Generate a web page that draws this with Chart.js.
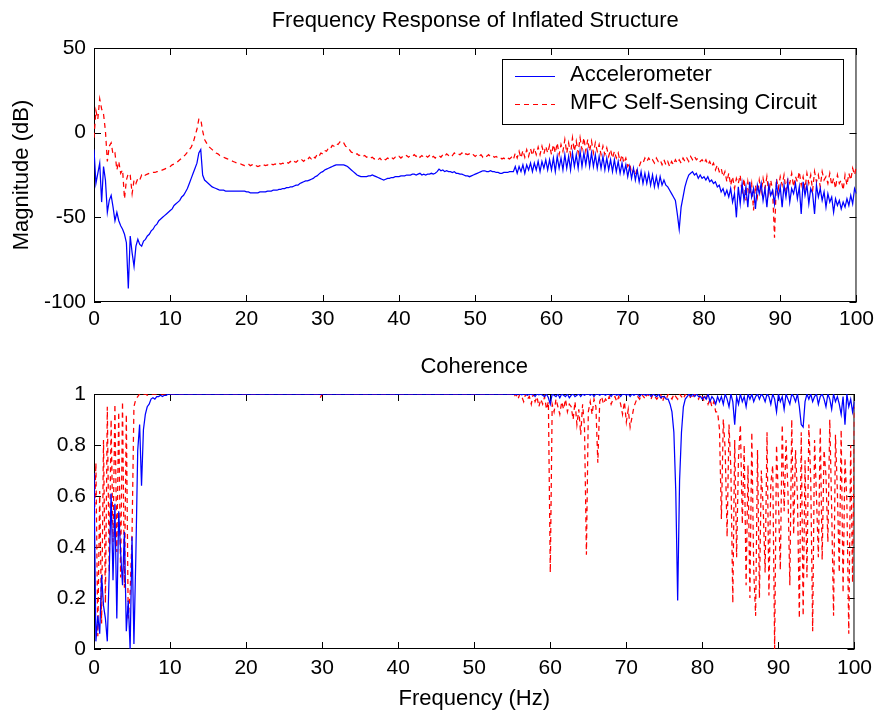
<!DOCTYPE html>
<html>
<head>
<meta charset="utf-8">
<title>Frequency Response of Inflated Structure</title>
<script src="https://cdn.jsdelivr.net/npm/chart.js@4.4.1/dist/chart.umd.min.js"></script>
<style>
  html, body { margin: 0; padding: 0; background: #fff; }
  #wrap { position: relative; width: 879px; height: 713px; overflow: hidden; }
  #wrap canvas { position: absolute; left: 0; }
  #magChart { top: 0; }
  #cohChart { top: 345px; }
</style>
</head>
<body>
<div id="wrap">
  <canvas id="magChart" width="879" height="345"></canvas>
  <canvas id="cohChart" width="879" height="368"></canvas>
</div>
<script>
// -------------------------------------------------------
// 1. DATA (0.25 Hz grid, 0..100 Hz)
// -------------------------------------------------------
const FREQ_STEP = 0.25;
const freqHz = [];
for (let i = 0; i <= 400; i++) freqHz.push(i * FREQ_STEP);

const seriesLabels = ['Accelerometer', 'MFC Self-Sensing Circuit'];

// Magnitude (dB), accelerometer
const accDb = [
  -10, -30, -24, -18, -41, -20, -28, -47, -40, -37, -44, -52, -47, -52, -55, -57, -60, -65, -92, -61,   // 0-5
  -71, -79, -67, -63, -66, -67, -64, -63, -61, -60, -58, -57, -55, -54, -52, -51, -50, -49, -48, -47,   // 5-10
  -46, -45, -43, -42, -41, -40, -38, -37, -35, -33, -30, -27, -24, -21, -18, -12, -10, -25, -28, -29,   // 10-15
  -30, -31, -32, -32.5, -33, -33.5, -34, -34, -34, -34.5, -34.5, -34.5, -34.5, -34.5, -34.5, -34.5, -34.5, -34.5, -34.5, -34.5,
  -35, -35, -35.5, -35.5, -35.5, -35.5, -35.5, -35, -35, -35, -35, -34.5, -34.5, -34.5, -34, -34, -34, -33.5, -33.5, -33,
  -33, -32.5, -32.5, -32, -32, -31.5, -31, -31, -30, -29.5, -29, -28.5, -28.5, -28, -27.5, -27, -26, -25.5, -24.5, -23.5,
  -23, -22, -21.5, -21, -20.5, -20, -19.5, -19, -19, -19, -19, -19, -19.5, -20, -21, -22, -23, -24, -25, -25.5,
  -26, -26, -26, -26, -25.5, -25.5, -25, -25.5, -26, -26.5, -27, -27.5, -28, -27.5, -27, -27, -26.5, -26.5, -26, -26,
  -26, -25.5, -25.5, -25.5, -25, -25, -25, -24.5, -24.5, -25, -24.5, -24, -25, -24.5, -25, -24.5, -24.5, -24, -24.5, -24,
  -23, -21.5, -22.5, -22, -23, -22.5, -23, -23, -23.5, -23, -24, -24, -24.5, -24.5, -25, -25.5, -25.5, -26, -25.5, -25,
  -24.5, -24, -23.5, -23, -22.5, -22.5, -23, -23, -22.5, -23, -23, -23.5, -23.5, -24, -24, -23.5, -23.5, -23.5, -23, -23,
  -23, -20, -24, -20, -23, -19, -24, -19, -22, -18, -23, -18, -22, -17, -23, -17, -21, -16, -22, -16,   // 55-60
  -22, -15, -23, -14, -21, -15, -22, -13, -21, -14, -22, -12, -20, -13, -21, -11, -20, -12, -19, -11,
  -20, -12, -20, -13, -21, -14, -21, -14, -22, -15, -22, -16, -23, -16, -23, -17, -24, -18, -24, -19,
  -26, -20, -27, -21, -28, -22, -29, -23, -30, -24, -30, -24, -31, -25, -32, -26, -32, -26, -31, -28,
  -31, -32, -34, -36, -38, -40, -48, -57, -44, -38, -32, -28, -25, -24, -23, -25, -24, -27, -25, -27,   // 75-80
  -26, -28, -26, -29, -28, -30, -29, -32, -31, -35, -33, -37, -34, -38, -33, -41, -36, -50, -32, -42,
  -30, -40, -32, -44, -29, -38, -33, -45, -31, -36, -30, -40, -33, -44, -31, -37, -34, -42, -30, -38,
  -32, -44, -31, -38, -29, -41, -33, -36, -30, -39, -32, -48, -29, -37, -31, -42, -33, -36, -48, -31,
  -38, -33, -40, -35, -44, -36, -41, -38, -47, -39, -43, -40, -45, -41, -44, -39, -43, -37, -42, -33,
  -36
];

// Magnitude (dB), MFC self-sensing circuit
const mfcDb = [
  -3, 13, 8, 20, 14, 11, 1, -17, -8, -6, -13, -12, -22, -17, -24, -22, -39, -28, -24, -25,   // 0-5
  -36, -28, -30, -27, -28, -25, -26, -25, -24.5, -24, -24, -23.5, -23.5, -23, -23, -22.5, -22, -21.5, -21, -20.5,
  -20, -19, -18.5, -18, -17, -16, -15, -14, -13, -11.5, -10, -8.5, -6, -2, 2, 8, 8, 1, -4, -6,   // 10-15
  -8, -9, -10, -11, -12, -12.5, -13.5, -14, -14.5, -15, -15.5, -16, -16.5, -17, -17.5, -18, -18, -18.5, -19, -19.5,
  -19, -18.5, -19.5, -19, -20, -19.5, -20, -19.5, -20, -19, -19.5, -19, -19.5, -18.5, -19, -18.5, -19, -18, -18.5, -18,
  -18.5, -17.5, -18, -17, -18, -17, -17.5, -16.5, -17, -16, -17, -15.5, -16, -14.5, -15.5, -14, -15, -13, -14, -12,
  -12.5, -10.5, -11, -9, -9.5, -7.5, -8, -6.5, -7, -5.5, -6.5, -6, -8, -8.5, -10, -11.5, -12, -13, -12.5, -13.5,
  -13, -14, -13.5, -14.5, -14, -15, -14.5, -15.5, -15, -16, -15, -16.5, -15.5, -16, -15, -15.5, -14.5, -15.5, -14.5, -15,
  -14, -15, -14, -14.5, -13.5, -14.5, -13.5, -14, -13, -14, -13, -14.5, -13.5, -14.5, -13.5, -14.5, -13.5, -15, -14, -15,
  -14, -13.5, -14.5, -13, -14, -12.5, -13.5, -12.5, -13.5, -12, -13, -12.5, -13, -12, -13.5, -12.5, -13, -12.5, -13.5, -13,
  -14, -13, -14, -13, -14.5, -13.5, -14, -13, -14, -13.5, -14.5, -14, -15, -14.5, -15.5, -15, -16, -15, -15.5, -14.5,
  -16, -12, -15, -11, -15, -10.5, -14.5, -10, -14, -9.5, -13.5, -9, -13, -8.5, -13, -8, -12.5, -8, -12, -7.5,   // 55-60
  -13, -7, -12, -6, -13, -7, -11, -4, -12, -6, -13, -3, -11, -5, -12, -3, -10, -3, -11, -4,
  -11, -5, -12, -6, -11, -7, -13, -8, -13, -9, -14, -10, -15, -11, -15, -12, -17, -13, -18, -15,
  -20, -18, -24, -22, -25, -21, -20, -17, -18, -15, -17, -15, -17, -16, -18, -15, -17, -16, -19, -16,
  -19, -17, -20, -17, -19, -16, -18, -16, -18, -15, -17, -15, -17, -14, -16, -14, -16, -15, -17, -16,
  -18, -16, -19, -17, -20, -18, -22, -19, -23, -21, -26, -23, -29, -24, -31, -26, -33, -27, -30, -25,   // 80-85
  -36, -27, -40, -29, -37, -30, -46, -31, -38, -28, -35, -27, -33, -26, -36, -28, -34, -62, -27, -33,
  -26, -31, -25, -34, -27, -30, -24, -32, -26, -29, -23, -31, -26, -33, -24, -30, -25, -34, -23, -29,
  -25, -32, -23, -28, -26, -30, -24, -31, -27, -33, -25, -30, -28, -34, -25, -31, -24, -28, -21, -25,
  -19
];

// Coherence, accelerometer
const accCoh = [
  0.69, 0.03, 0.13, 0.06, 0.29, 0.17, 0.12, 0.03, 0.30, 0.61, 0.27, 0.57, 0.12, 0.54, 0.38, 0.25, 0.46, 0.07, 0.19, 0.00,
  0.44, 0.02, 0.36, 0.78, 0.88, 0.64, 0.86, 0.92, 0.95, 0.96, 0.98, 0.985, 0.98, 0.99, 0.99, 0.995, 0.99, 0.995, 0.995, 1,
  1, 1, 1, 1, 1, 1, 1, 1, 1, 1, 1, 1, 1, 1, 1, 1, 1, 1, 1, 1,   // 10-15
  1, 1, 1, 1, 1, 1, 1, 1, 1, 1, 1, 1, 1, 1, 1, 1, 1, 1, 1, 1,
  1, 1, 1, 1, 1, 1, 1, 1, 1, 1, 1, 1, 1, 1, 1, 1, 1, 1, 1, 1,
  1, 1, 1, 1, 1, 1, 1, 1, 1, 1, 1, 1, 1, 1, 1, 1, 1, 1, 1, 1,
  1, 1, 1, 1, 1, 1, 1, 1, 1, 1, 1, 1, 1, 1, 1, 1, 1, 1, 1, 1,
  1, 1, 1, 1, 1, 1, 1, 1, 1, 1, 1, 1, 1, 1, 1, 1, 1, 1, 1, 1,
  1, 1, 1, 1, 1, 1, 1, 1, 1, 1, 1, 1, 1, 1, 1, 1, 1, 1, 1, 1,
  1, 1, 1, 1, 1, 1, 1, 1, 1, 1, 1, 1, 1, 1, 1, 1, 1, 1, 1, 1,
  1, 1, 1, 1, 1, 1, 1, 1, 1, 1, 1, 1, 1, 1, 1, 1, 1, 1, 1, 1,   // 50-55
  1, 1, 0.998, 1, 1, 0.997, 1, 1, 0.995, 1, 0.998, 1, 0.99, 1, 0.997, 1, 0.995, 0.99, 1, 0.985,
  0.96, 1, 0.995, 0.99, 1, 0.985, 1, 0.995, 0.99, 1, 0.985, 0.995, 1, 0.99, 0.995, 1, 0.99, 1, 0.995, 1,
  1, 0.995, 1, 0.99, 1, 1, 0.995, 1, 1, 0.995, 1, 1, 0.99, 1, 1, 0.995, 1, 0.99, 1, 1,
  0.995, 1, 0.99, 1, 0.995, 1, 1, 0.99, 1, 1, 0.995, 1, 1, 0.99, 1, 0.995, 0.99, 1, 0.985, 0.99,
  0.99, 0.98, 0.98, 0.96, 0.93, 0.85, 0.62, 0.19, 0.66, 0.85, 0.95, 0.98, 0.99, 1, 0.99, 1, 0.99, 1, 0.99, 0.99,   // 75-80
  0.98, 0.99, 0.98, 1, 0.97, 0.99, 0.98, 0.96, 0.99, 0.97, 0.99, 0.96, 1, 0.98, 0.95, 1, 0.97, 0.88, 0.99, 0.96,
  1, 0.97, 0.99, 0.95, 1, 0.98, 1, 0.97, 0.99, 1, 0.98, 1, 0.99, 0.97, 1, 0.99, 0.96, 1, 0.98, 0.93,
  1, 0.97, 0.99, 0.94, 1, 0.98, 0.96, 1, 0.99, 0.97, 1, 0.95, 0.88, 0.87, 0.97, 1, 0.98, 1, 0.97, 0.99,
  1, 0.96, 0.99, 1, 0.98, 0.95, 1, 0.98, 0.94, 1, 0.97, 0.99, 0.96, 0.92, 0.99, 0.88, 1, 0.95, 0.98, 0.93,
  0.97
];

// Coherence, MFC self-sensing circuit
const mfcCoh = [
  0.45, 0.73, 0.05, 0.62, 0.10, 0.82, 0.18, 0.95, 0.30, 0.90, 0.42, 0.96, 0.38, 0.93, 0.28, 0.97, 0.24, 0.92, 0.12, 0.22,
  0.45, 0.95, 0.98, 0.99, 1, 0.995, 1, 1, 0.995, 1, 1, 1, 1, 1, 1, 1, 1, 1, 1, 1,
  1, 1, 1, 1, 1, 1, 1, 1, 1, 1, 1, 1, 1, 1, 1, 1, 1, 1, 1, 1,   // 10-15
  1, 1, 1, 1, 1, 1, 1, 1, 1, 1, 1, 1, 1, 1, 1, 1, 1, 1, 1, 1,
  1, 1, 1, 1, 1, 1, 1, 1, 1, 1, 1, 1, 1, 1, 1, 1, 1, 1, 1, 1,
  1, 1, 1, 1, 1, 1, 1, 1, 1, 1, 1, 1, 1, 1, 1, 1, 1, 1, 1, 0.985,
  1, 1, 1, 1, 1, 1, 1, 1, 1, 1, 1, 1, 1, 1, 1, 1, 1, 1, 1, 1,
  1, 1, 1, 1, 1, 1, 1, 1, 1, 1, 1, 1, 1, 1, 1, 1, 1, 1, 1, 1,
  1, 1, 1, 1, 1, 1, 1, 1, 1, 1, 1, 1, 1, 1, 1, 1, 1, 1, 1, 1,
  1, 1, 1, 1, 1, 1, 1, 1, 1, 1, 1, 1, 1, 1, 1, 1, 1, 1, 1, 1,
  1, 1, 1, 1, 1, 1, 1, 1, 1, 1, 1, 1, 1, 1, 1, 1, 1, 1, 1, 1,   // 50-55
  1, 0.99, 1, 0.98, 1, 0.99, 0.97, 1, 0.98, 0.99, 0.96, 1, 0.97, 0.99, 0.95, 0.98, 0.96, 0.99, 0.94, 0.97,
  0.30, 0.96, 0.93, 0.98, 0.95, 0.92, 0.97, 0.94, 0.98, 0.93, 0.96, 0.95, 0.90, 0.97, 0.88, 0.94, 0.84, 0.96, 0.87, 0.37,
  0.93, 0.97, 0.92, 0.98, 0.95, 0.73, 0.97, 0.99, 0.96, 0.98, 0.97, 0.99, 0.96, 0.98, 0.99, 0.97, 0.99, 0.96, 0.92, 0.97,
  0.89, 0.94, 0.87, 0.91, 0.95, 0.97, 0.99, 0.98, 1, 0.99, 0.98, 1, 0.99, 0.98, 1, 0.99, 0.98, 0.99, 1, 0.97,
  0.99, 0.98, 1, 0.99, 0.98, 1, 0.99, 0.98, 1, 0.99, 0.98, 1, 0.99, 1, 0.98, 0.99, 1, 0.99, 0.98, 1,
  0.99, 0.97, 0.99, 0.96, 0.98, 0.95, 0.97, 0.93, 0.93, 0.86, 0.51, 0.90, 0.78, 0.44, 0.88, 0.70, 0.18, 0.82, 0.36, 0.75,   // 80-85
  0.88, 0.49, 0.80, 0.25, 0.72, 0.20, 0.85, 0.31, 0.13, 0.78, 0.20, 0.70, 0.55, 0.30, 0.85, 0.21, 0.65, 0.72, 0.00, 0.80,
  0.58, 0.31, 0.88, 0.54, 0.82, 0.62, 0.25, 0.90, 0.45, 0.78, 0.60, 0.12, 0.85, 0.13, 0.74, 0.28, 0.88, 0.66, 0.07, 0.82,
  0.60, 0.36, 0.87, 0.35, 0.78, 0.68, 0.42, 0.90, 0.55, 0.13, 0.84, 0.62, 0.30, 0.86, 0.22, 0.75, 0.58, 0.06, 0.80, 0.26,
  0.95
];

const magTicks = [-100, -50, 0, 50];
const cohTicks = [0, 0.2, 0.4, 0.6, 0.8, 1];
const freqTicks = [0, 10, 20, 30, 40, 50, 60, 70, 80, 90, 100];

// -------------------------------------------------------
// 2. LOOK AND FEEL
// -------------------------------------------------------
const FONT = '"Liberation Sans", Arial, Helvetica, sans-serif';
const TICK_LEN = 7;
const lineStyles = [
  { color: '#0000ff', dash: [] },
  { color: '#ff0000', dash: [5, 4] }
];

Chart.defaults.font.family = FONT;
Chart.defaults.color = '#000';

// MATLAB-like box with inward ticks on all four sides
const matlabBox = {
  id: 'matlabBox',
  beforeDatasetsDraw(chart) {
    const { ctx, chartArea: area, scales } = chart;
    ctx.save();
    ctx.strokeStyle = '#000';
    ctx.lineWidth = 1;
    ctx.beginPath();
    scales.x.ticks.forEach(t => {
      const px = Math.round(scales.x.getPixelForValue(t.value)) + 0.5;
      ctx.moveTo(px, area.bottom); ctx.lineTo(px, area.bottom - TICK_LEN);
      ctx.moveTo(px, area.top); ctx.lineTo(px, area.top + TICK_LEN);
    });
    scales.y.ticks.forEach(t => {
      const py = Math.round(scales.y.getPixelForValue(t.value)) + 0.5;
      ctx.moveTo(area.left, py); ctx.lineTo(area.left + TICK_LEN, py);
      ctx.moveTo(area.right, py); ctx.lineTo(area.right - TICK_LEN, py);
    });
    ctx.stroke();
    ctx.strokeRect(area.left + 0.5, area.top + 0.5, area.width - 1, area.height - 1);
    ctx.restore();
  }
};

// boxed legend sitting inside the plot, top right
const boxLegend = {
  id: 'boxLegend',
  afterDatasetsDraw(chart, args, opts) {
    if (!opts.display) return;
    const { ctx, chartArea: area } = chart;
    const left = Math.round(area.right - opts.right - opts.width);
    const top = Math.round(area.top + opts.top);
    ctx.save();
    ctx.fillStyle = '#fff';
    ctx.fillRect(left, top, opts.width, opts.height);
    ctx.strokeStyle = '#000';
    ctx.lineWidth = 1;
    ctx.strokeRect(left + 0.5, top + 0.5, opts.width, opts.height);
    ctx.font = opts.fontSize + 'px ' + FONT;
    ctx.textBaseline = 'middle';
    ctx.textAlign = 'left';
    chart.data.datasets.forEach((ds, i) => {
      const cy = top + opts.firstRow + i * opts.rowGap;
      const ly = Math.round(cy + opts.sampleDrop) + 0.5;
      ctx.strokeStyle = ds.borderColor;
      ctx.lineWidth = 1;
      ctx.setLineDash(ds.borderDash || []);
      ctx.beginPath();
      ctx.moveTo(left + opts.sampleStart, ly);
      ctx.lineTo(left + opts.sampleStart + opts.sampleLen, ly);
      ctx.stroke();
      ctx.setLineDash([]);
      ctx.fillStyle = '#000';
      ctx.fillText(ds.label, left + opts.textStart, cy);
    });
    ctx.restore();
  }
};

// -------------------------------------------------------
// 3. THE TWO SUBPLOTS
// -------------------------------------------------------
const allCharts = [
  {
    canvasId: 'magChart',
    title: 'Frequency Response of Inflated Structure',
    titlePadding: { top: 8, bottom: 13.6 },
    series: [accDb, mfcDb],
    yMin: -100, yMax: 50, yTicks: magTicks,
    yTitle: 'Magnitude (dB)',
    xTitle: '',
    xAxisHeight: 43,
    xTickPadding: 5,
    legend: true
  },
  {
    canvasId: 'cohChart',
    title: 'Coherence',
    titlePadding: { top: 9, bottom: 13.6 },
    series: [accCoh, mfcCoh],
    yMin: 0, yMax: 1, yTicks: cohTicks,
    yTitle: '',
    xTitle: 'Frequency (Hz)',
    xAxisHeight: 64,
    xTickPadding: 7,
    legend: false
  }
];

allCharts.forEach(config => buildChart(config));

function buildChart(config) {
  const ctx = document.getElementById(config.canvasId);
  if (!ctx) return;

  const datasets = config.series.map((values, i) => ({
    label: seriesLabels[i],
    data: freqHz.map((f, k) => ({ x: f, y: values[k] })),
    borderColor: lineStyles[i].color,
    borderDash: lineStyles[i].dash,
    borderWidth: 1.25,
    pointRadius: 0,
    fill: false,
    tension: 0
  }));

  new Chart(ctx, {
    type: 'line',
    data: { datasets: datasets },
    plugins: [matlabBox, boxLegend],
    options: {
      responsive: false,
      animation: false,
      devicePixelRatio: 1,
      events: [],
      layout: { padding: { left: 0, right: 22, top: 0, bottom: 0 } },
      plugins: {
        legend: { display: false },
        tooltip: { enabled: false },
        title: {
          display: true,
          text: config.title,
          fullSize: false,
          color: '#000',
          font: { size: 22, weight: 'normal' },
          padding: config.titlePadding
        },
        boxLegend: {
          display: config.legend,
          right: 13, top: 11, width: 341, height: 65,
          firstRow: 15.5, rowGap: 28,
          sampleStart: 13, sampleLen: 40, sampleDrop: 1.5,
          textStart: 68, fontSize: 22
        }
      },
      scales: {
        x: {
          type: 'linear',
          min: 0, max: 100,
          grid: { display: false, drawTicks: false },
          border: { display: false },
          afterBuildTicks: scale => { scale.ticks = freqTicks.map(v => ({ value: v })); },
          ticks: { padding: config.xTickPadding, font: { size: 21 }, maxRotation: 0, autoSkip: false },
          title: {
            display: !!config.xTitle,
            text: config.xTitle,
            font: { size: 22 },
            padding: { top: 0, bottom: 0.5 }
          },
          afterFit: scale => { scale.height = config.xAxisHeight; }
        },
        y: {
          type: 'linear',
          min: config.yMin, max: config.yMax,
          grid: { display: false, drawTicks: false },
          border: { display: false },
          afterBuildTicks: scale => { scale.ticks = config.yTicks.map(v => ({ value: v })); },
          ticks: {
            padding: 8, font: { size: 21 }, autoSkip: false,
            callback: value => String(value)
          },
          title: {
            display: !!config.yTitle,
            text: config.yTitle,
            font: { size: 22 },
            padding: { top: 8.5, bottom: 0 }
          },
          afterFit: scale => { scale.width = 94; }
        }
      }
    }
  });
}
</script>
</body>
</html>
